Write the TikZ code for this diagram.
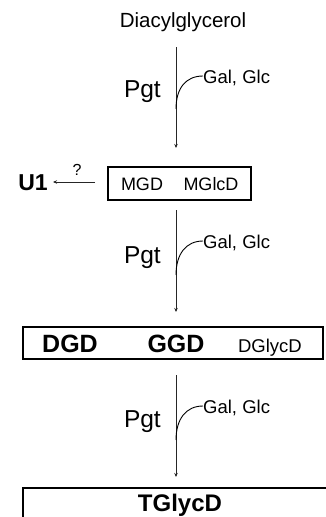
\documentclass[tikz,border=0pt]{standalone}
\usepackage{fontspec}
\setmainfont{Liberation Sans}
\usetikzlibrary{arrows.meta}
\tikzset{
  flow/.style={draw=black!85, line width=0.9pt, -{Stealth[length=4pt,width=3.5pt]}},
  sugar/.style={draw=black, line width=0.9pt},
  boxed/.style={draw=black, line width=1.2pt},
  lbl/.style={inner sep=0pt, anchor=base},
}
\newcommand{\fs}[1]{\fontsize{#1}{#1}\selectfont}
\begin{document}
\begin{tikzpicture}[x=1pt,y=-1pt]
\useasboundingbox (0,0) rectangle (325,517);
% source
\node[lbl] (dag) at (183,27.5) {\fs{20.5}Diacylglycerol};
% step 1
\coordinate (a1s) at (176,47);
\coordinate (a1e) at (176,148);
\draw[flow] (a1s) -- (a1e);
\node[lbl, anchor=base east] (pgt1) at (161,97) {\fs{24.5}Pgt};
\coordinate (c1s) at (176,109);
\node[lbl, anchor=base west] (gal1) at (203,83.5) {\fs{18.5}Gal, Glc};
\draw[sugar] (c1s) .. controls (176,88) and (186,76) .. (203,76);
% box 1
\draw[boxed] (108,167) rectangle (251,200);
\node[lbl] (mgd) at (142,190) {\fs{18}MGD};
\node[lbl] (mglcd) at (211,190) {\fs{18}MGlcD};
\node[lbl] (u1) at (33,190.5) {\fs{23}\bfseries U1};
\coordinate (qs) at (95,182);
\coordinate (qe) at (53,182);
\draw[flow] (qs) -- (qe);
\node[lbl] (q) at (77,175) {\fs{16}?};
% step 2
\coordinate (a2s) at (176,210);
\coordinate (a2e) at (176,312);
\draw[flow] (a2s) -- (a2e);
\node[lbl, anchor=base east] (pgt2) at (161,263) {\fs{24.5}Pgt};
\coordinate (c2s) at (176,275);
\node[lbl, anchor=base west] (gal2) at (203,248.5) {\fs{18.5}Gal, Glc};
\draw[sugar] (c2s) .. controls (176,254) and (186,241) .. (203,241);
% box 2
\draw[boxed] (23,327) rectangle (323,359);
\node[lbl] (dgd) at (70,352) {\fs{25}\bfseries DGD};
\node[lbl] (ggd) at (176,352) {\fs{25}\bfseries GGD};
\node[lbl] (dglycd) at (270,352) {\fs{18.5}DGlycD};
% step 3
\coordinate (a3s) at (176,375);
\coordinate (a3e) at (176,477);
\draw[flow] (a3s) -- (a3e);
\node[lbl, anchor=base east] (pgt3) at (161,427) {\fs{24.5}Pgt};
\coordinate (c3s) at (176,440);
\node[lbl, anchor=base west] (gal3) at (203,413.5) {\fs{18.5}Gal, Glc};
\draw[sugar] (c3s) .. controls (176,419) and (186,406) .. (203,406);
% box 3
\draw[boxed] (23,530) -- (23,488) -- (330,488);
\node[lbl] (tglycd) at (180,511) {\fs{24}\bfseries TGlycD};
\end{tikzpicture}
\end{document}
